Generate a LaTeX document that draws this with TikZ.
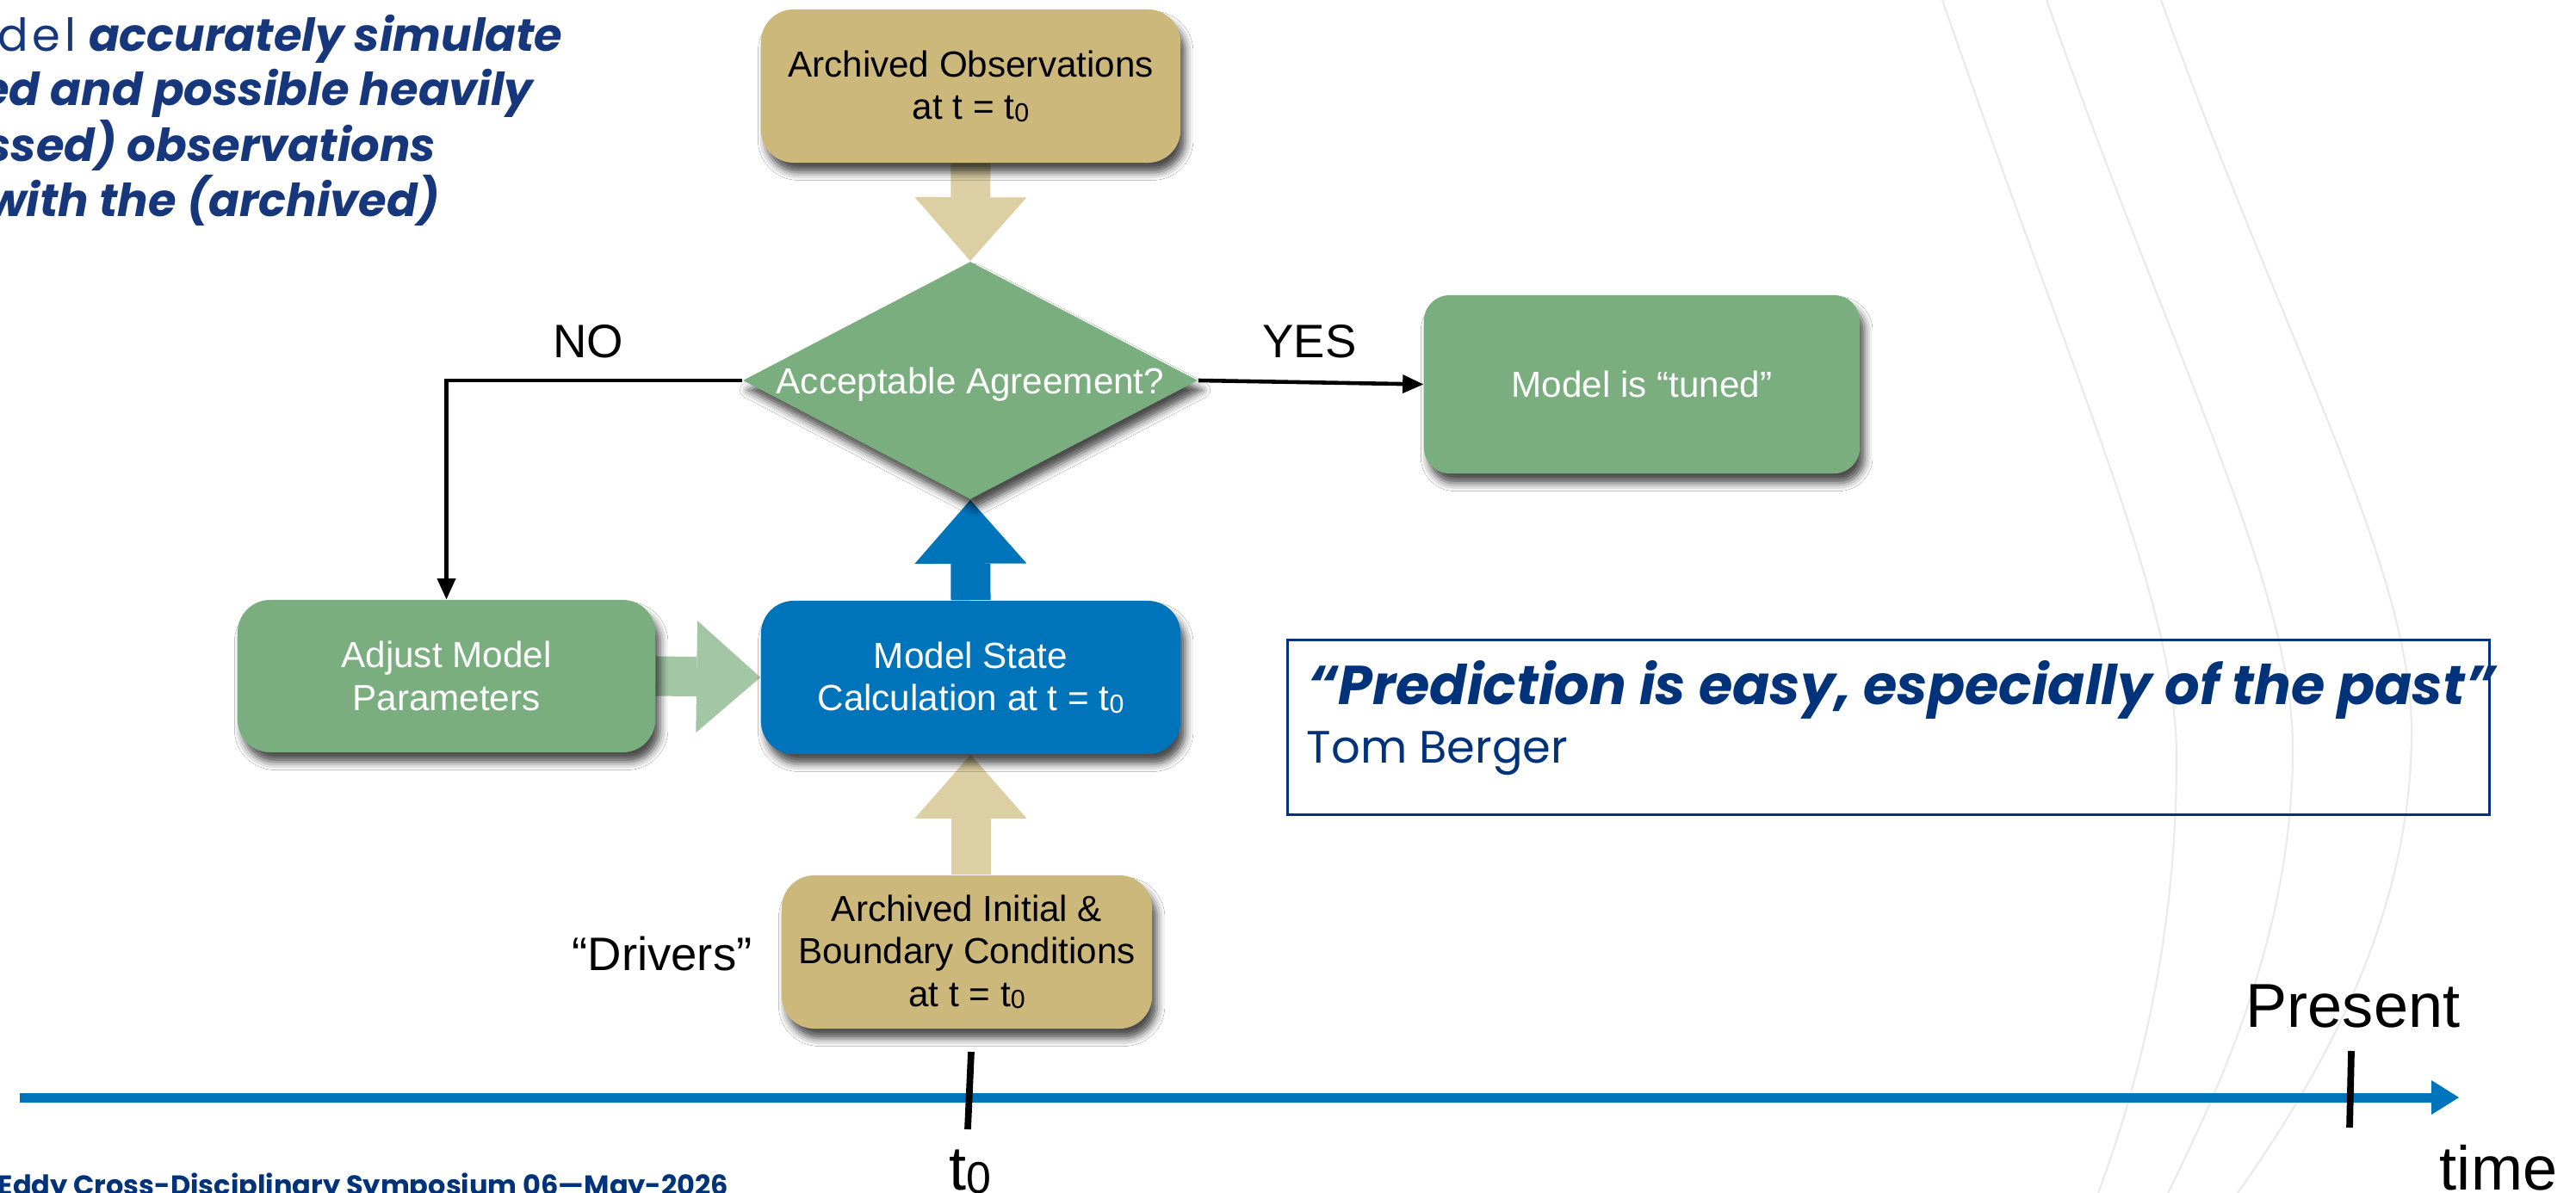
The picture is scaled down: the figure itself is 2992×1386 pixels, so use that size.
\documentclass[tikz,border=0pt]{standalone}
\usepackage{fontspec}
\usepackage{graphicx}
\setmainfont{Liberation Sans}
\newfontfamily\pop{Poppins}
\usetikzlibrary{shapes.geometric, arrows.meta, backgrounds, shadows.blur}

\definecolor{boxtan}{RGB}{205,184,124}
\definecolor{arrowtan}{RGB}{220,207,164}
\definecolor{boxgreen}{RGB}{123,174,127}
\definecolor{arrowgreen}{RGB}{163,198,165}
\definecolor{boxblue}{RGB}{0,116,186}
\definecolor{navy}{RGB}{0,51,122}
\definecolor{headblue}{RGB}{22,55,123}
\definecolor{arcgray}{RGB}{234,234,234}

% t with a small zero index
\newcommand{\tnull}{t\raisebox{-0.06em}{\scalebox{0.72}{0}}}

\tikzset{
  boxshadow/.style={blur shadow={shadow xshift=1.6pt, shadow yshift=-3.2pt,
      shadow blur radius=2.6pt, shadow opacity=70}},
  flowbox/.style={rounded corners=0.38cm, inner sep=0pt, align=center,
      font=\fontsize{12}{14}\selectfont, boxshadow},
  tanbox/.style={flowbox, fill=boxtan, text=black},
  greenbox/.style={flowbox, fill=boxgreen, text=white},
  bluebox/.style={flowbox, fill=boxblue, text=white},
  decision/.style={diamond, aspect=1.913, inner sep=0pt, fill=boxgreen, text=white,
      minimum width=5.28cm, minimum height=2.76cm, text depth=0pt,
      font=\fontsize{12}{14}\selectfont, boxshadow},
  blockarrow/.style={line width=0.46cm,
      -{Triangle[length=0.74cm, width=1.30cm, line width=0pt]}},
  flowline/.style={draw=black, line width=1.3pt,
      -{Triangle[length=0.24cm, width=0.22cm, line width=0pt]}},
  sidelabel/.style={font=\fontsize{15.5}{18}\selectfont, inner sep=0pt},
  axislabel/.style={font=\fontsize{20.5}{24}\selectfont, inner sep=0pt, anchor=base},
  tickmark/.style={draw=black, line width=2.2pt},
  bgarc/.style={draw=arcgray, line width=0.6pt},
  heading/.style={text=headblue, inner sep=0pt, anchor=base east,
      font=\pop\fontsize{15}{18}\selectfont},
}

\begin{document}
\begin{tikzpicture}[x=0.01cm, y=-0.01cm]
  \useasboundingbox (0,0) rectangle (2992,1386);
  \clip (0,0) rectangle (2992,1386);

  % flow chart boxes
  \node[tanbox, minimum width=4.87cm, minimum height=1.78cm] (obs) at (1127.5,100)
    {Archived Observations\\at t = \tnull};
  \node[decision] (dec) at (1127,442) {Acceptable Agreement?};
  \node[greenbox, minimum width=5.06cm, minimum height=2.07cm, rounded corners=0.3cm] (tuned)
    at (1907,446.5) {Model is “tuned”};
  \node[greenbox, minimum width=4.85cm, minimum height=1.77cm] (adjust) at (518.5,785.5)
    {Adjust Model\\Parameters};
  \node[bluebox, minimum width=4.87cm, minimum height=1.78cm] (state) at (1127.5,787)
    {Model State\\Calculation at t = \tnull};
  \node[tanbox, minimum width=4.30cm, minimum height=1.78cm] (drivers) at (1123,1106)
    {Archived Initial \&\\Boundary Conditions\\at t = \tnull};

  % background curves and wide arrows, underneath the boxes and their shadows
  \begin{scope}[on background layer]
    \fill[white] (0,0) rectangle (2992,1386);
    \draw[bgarc] (2256,0) .. controls (2411,450) and (2528,700) .. (2528,880)
                          .. controls (2528,1100) and (2480,1270) .. (2437,1386);
    \draw[bgarc] (2377,0) .. controls (2524,420) and (2663,680) .. (2663,870)
                          .. controls (2663,1080) and (2580,1260) .. (2518,1386);
    \draw[bgarc] (2510,0) .. controls (2654,400) and (2801,660) .. (2801,850)
                          .. controls (2801,1080) and (2680,1270) .. (2599,1386);

    \draw[blockarrow, arrowtan] (obs.south) -- (dec.north);
    \draw[blockarrow, boxblue] (state.north) -- (dec.south);
    \draw[blockarrow, arrowgreen] (adjust.east) -- (state.west);
    \draw[blockarrow, arrowtan] (drivers.north -| state.south) -- (state.south);
  \end{scope}

  % decision connectors
  \draw[flowline] (dec.west) -| (adjust.north);
  \draw[flowline] (dec.east) -- (tuned.west);
  \node[sidelabel] (nolabel) at (683,397) {NO};
  \node[sidelabel] (yeslabel) at (1521,397) {YES};
  \node[sidelabel] (driverslabel) at (769,1108) {“Drivers”};

  % quotation
  \node[draw=navy, line width=0.85pt, minimum width=13.95cm, minimum height=2.03cm,
        inner sep=0pt] (quotebox) at (2193.5,845) {};
  \node[anchor=base west, inner sep=0pt, text=navy,
        font=\pop\bfseries\itshape\fontsize{18.1}{22}\selectfont] (quote) at (1519,818)
    {“Prediction is easy, especially of the past”};
  \node[anchor=base west, inner sep=0pt, text=navy,
        font=\pop\fontsize{15}{18}\selectfont] (author) at (1517,886) {Tom Berger};

  % time axis
  \coordinate (axisstart) at (23,1275);
  \coordinate (axisend) at (2856,1275);
  \draw[boxblue, line width=0.11cm,
        -{Triangle[length=0.32cm, width=0.40cm, line width=0pt]}] (axisstart) -- (axisend);
  \draw[tickmark] (1128,1222) -- (1124,1312);
  \draw[tickmark] (2731,1221) -- (2729,1310);
  \node[axislabel] (present) at (2733,1193) {Present};
  \node[axislabel] (timelabel) at (2902,1382) {time};
  \node[axislabel] (tzerolabel) at (1127,1382) {\tnull};

  % heading text in the upper left corner
  \node[heading] (h1) at (654,60)
    {{\addfontfeature{LetterSpace=10}del} \bfseries\itshape accurately simulate};
  \node[heading] (h2) at (620,123) {\bfseries\itshape ed and possible heavily};
  \node[heading] (h3) at (507,188) {\bfseries\itshape ssed) observations};
  \node[heading] (h4) at (511,252) {\bfseries\itshape with the (archived)};

  % footer
  \node[anchor=base west, inner sep=0pt, text=navy,
        font=\pop\bfseries\fontsize{9.1}{10}\selectfont] (footer) at (-3,1388)
    {Eddy Cross-Disciplinary Symposium 06—May-2026};
\end{tikzpicture}
\end{document}
